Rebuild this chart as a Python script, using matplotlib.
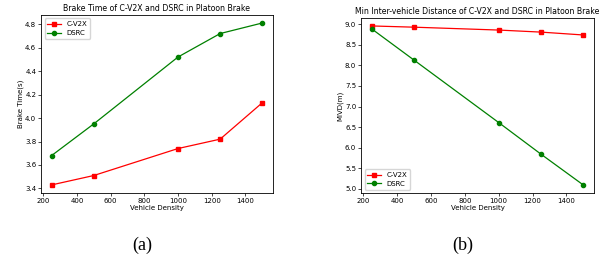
import matplotlib
matplotlib.use('Agg')
import matplotlib.pyplot as plt

density = [250, 500, 1000, 1250, 1500]
brake_cv2x = [3.43, 3.51, 3.74, 3.82, 4.13]
brake_dsrc = [3.68, 3.95, 4.52, 4.72, 4.81]
mivd_cv2x = [8.96, 8.93, 8.86, 8.81, 8.74]
mivd_dsrc = [8.89, 8.13, 6.61, 5.84, 5.09]

fig = plt.figure(figsize=(6.13, 2.57), dpi=100)
ax1 = fig.add_axes([0.067, 0.249, 0.378, 0.693])
ax2 = fig.add_axes([0.589, 0.249, 0.380, 0.681])

fs = 5
for ax, c, d, title, ylabel, loc in [
        (ax1, brake_cv2x, brake_dsrc, 'Brake Time of C-V2X and DSRC in Platoon Brake', 'Brake Time(s)', 'upper left'),
        (ax2, mivd_cv2x, mivd_dsrc, 'Min Inter-vehicle Distance of C-V2X and DSRC in Platoon Brake', 'MIVD(m)', 'lower left')]:
    ax.plot(density, c, color='red', marker='s', markersize=3, linewidth=0.9, label='C-V2X')
    ax.plot(density, d, color='green', marker='o', markersize=3, linewidth=0.9, label='DSRC')
    ax.set_title(title, fontsize=5.6, pad=3)
    ax.set_xlabel('Vehicle Density', fontsize=fs, labelpad=1)
    ax.set_ylabel(ylabel, fontsize=fs, labelpad=1)
    ax.tick_params(labelsize=fs, length=2, width=0.5, pad=1.5)
    ax.set_xticks([200, 400, 600, 800, 1000, 1200, 1400])
    for s in ax.spines.values():
        s.set_linewidth(0.6)
    ax.legend(loc=loc, fontsize=fs, handlelength=2, borderpad=0.4, labelspacing=0.4)

ax1.set_yticks([3.4, 3.6, 3.8, 4.0, 4.2, 4.4, 4.6, 4.8])
ax2.set_yticks([5.0, 5.5, 6.0, 6.5, 7.0, 7.5, 8.0, 8.5, 9.0])

fig.text(142 / 613, 1 - 245 / 257, '(a)', fontsize=13, family='Liberation Serif', ha='center', va='center')
fig.text(463 / 613, 1 - 245 / 257, '(b)', fontsize=13, family='Liberation Serif', ha='center', va='center')

fig.savefig('out.png', dpi=100)
